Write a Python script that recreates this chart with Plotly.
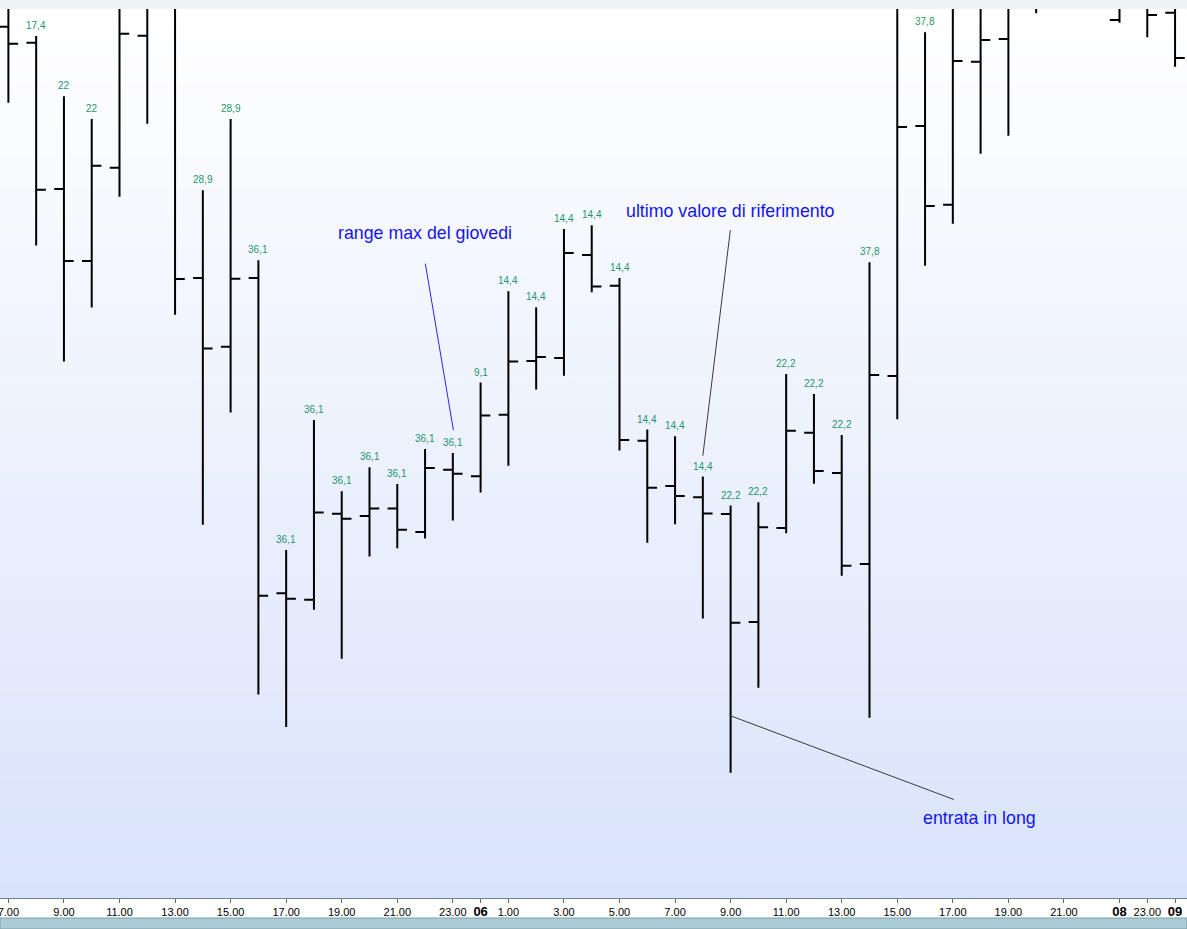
import plotly.graph_objects as go

# hourly bars, index 0 = day 05 07:00 (prices in chart units, axis hidden)
bar_idx = list(range(43))
opens = [873.3, 857.3, 711.0, 639.0, 732.3, 864.3, 910.0, 622.1, 553.2, 622.1,
         306.7, 300.2, 386.3, 384.1, 391.4, 368.1, 430.3, 423.7, 485.2, 539.0,
         542.0, 645.1, 614.2, 459.2, 414.0, 402.8, 386.1, 278.0, 372.0, 467.3,
         427.0, 336.0, 524.0, 774.0, 695.3, 838.3, 861.0, 910.0, 920.0, 940.0,
         880.0, 905.0, 887.3]
highs = [920.0, 864.0, 803.7, 781.0, 910.0, 940.0, 930.0, 709.7, 781.0, 639.8,
         350.0, 480.1, 408.8, 432.8, 416.1, 451.0, 447.0, 517.5, 608.7, 592.8,
         671.0, 674.8, 622.1, 470.5, 463.7, 423.5, 394.5, 397.7, 526.0, 506.0,
         465.0, 637.7, 915.0, 867.7, 910.0, 925.0, 940.0, 950.0, 960.0, 970.0,
         935.0, 930.0, 925.0]
lows = [797.3, 654.4, 538.6, 592.4, 703.3, 776.3, 585.2, 375.3, 487.4, 205.6,
        172.9, 290.3, 241.3, 343.4, 351.8, 361.6, 379.4, 407.4, 434.3, 510.4,
        524.3, 607.8, 449.4, 357.3, 375.7, 281.6, 127.3, 212.3, 366.7, 416.3,
        324.3, 182.3, 480.7, 634.3, 676.3, 746.3, 764.3, 886.7, 905.0, 910.0,
        877.3, 862.7, 833.3]
closes = [856.3, 710.3, 639.0, 734.3, 866.3, 905.0, 621.0, 551.4, 621.3, 304.2,
          301.2, 387.4, 381.2, 391.4, 370.3, 432.1, 426.3, 484.4, 538.4, 543.1,
          647.0, 613.5, 460.0, 412.2, 403.9, 386.6, 277.2, 372.7, 469.3, 429.0,
          334.3, 525.0, 773.0, 694.0, 839.0, 860.0, 905.0, 920.0, 940.0, 930.0,
          910.0, 885.0, 842.0]
range_labels = ["", "17,4", "22", "22", "", "", "", "28,9", "28,9", "36,1",
                "36,1", "36,1", "36,1", "36,1", "36,1", "36,1", "36,1", "9,1", "14,4", "14,4",
                "14,4", "14,4", "14,4", "14,4", "14,4", "14,4", "22,2", "22,2", "22,2", "22,2",
                "22,2", "37,8", "", "37,8", "", "", "", "", "", "",
                "", "", ""]

tick_pos = [0, 2, 4, 6, 8, 10, 12, 14, 16, 17, 18, 20, 22, 24, 26, 28, 30, 32, 34, 36, 38, 40, 41, 42]
tick_text = ["7.00", "9.00", "11.00", "13.00", "15.00", "17.00", "19.00", "21.00", "23.00", "06",
             "1.00", "3.00", "5.00", "7.00", "9.00", "11.00", "13.00", "15.00", "17.00", "19.00",
             "21.00", "08", "23.00", "09"]
day_ticks = {"06", "08", "09"}

notes = [
    ("range max del giovedi", 15.0, 667.3),
    ("ultimo valore di riferimento", 26.0, 689.0),
    ("entrata in long", 34.97, 82.0),
]
# pointer lines (x0, y0, x1, y1, colour)
pointers = [
    (15.01, 636.4, 16.02, 469.9, "#2626f2"),
    (25.99, 669.9, 25.0, 444.2, "#3a3a3a"),
    (25.97, 184.5, 34.04, 100.5, "#3a3a3a"),
]

fig = go.Figure(
    go.Ohlc(
        x=bar_idx,
        open=opens,
        high=highs,
        low=lows,
        close=closes,
        increasing={"line": {"color": "black", "width": 2}},
        decreasing={"line": {"color": "black", "width": 2}},
        tickwidth=0.35,
        hoverinfo="skip",
        showlegend=False,
    )
)

# background gradient, white at top to pale blue at bottom
shapes = []
steps = 60
top_rgb = (255, 255, 255)
bot_rgb = (217, 227, 251)
for k in range(steps):
    f = (k + 0.5) / steps
    rgb = tuple(round(t + (b - t) * f) for t, b in zip(top_rgb, bot_rgb))
    shapes.append(dict(
        type="rect", xref="paper", yref="paper", x0=0, x1=1,
        y0=max(0, 1 - (k + 1) / steps - 0.004), y1=1 - k / steps,
        fillcolor="rgb(%d,%d,%d)" % rgb, line={"width": 0}, layer="below",
    ))
# window chrome: strip above the plot and scrollbar strip below the axis
shapes.append(dict(type="rect", xref="paper", yref="paper", x0=0, x1=1,
                   y0=1.0, y1=1.0102, fillcolor="#eef3f3", line={"width": 0}))
shapes.append(dict(type="rect", xref="paper", yref="paper", x0=0, x1=1,
                   y0=-0.0349, y1=-0.0225, fillcolor="#a9ccd7",
                   line={"color": "#7f9ea8", "width": 1}))
for x0, y0, x1, y1, col in pointers:
    shapes.append(dict(type="line", xref="x", yref="y", x0=x0, y0=y0, x1=x1, y1=y1,
                       line={"color": col, "width": 1}))

annotations = []
for i, txt in enumerate(range_labels):
    if not txt:
        continue
    annotations.append(dict(
        x=bar_idx[i], y=highs[i], text=txt, showarrow=False, yshift=10.5,
        xanchor="center", yanchor="middle",
        font={"family": "Liberation Sans, Arial", "size": 10, "color": "#1f9470"},
    ))
for txt, nx, ny in notes:
    annotations.append(dict(
        x=nx, y=ny, text=txt, showarrow=False, xanchor="center", yanchor="middle",
        font={"family": "Liberation Sans, Arial", "size": 17.8, "color": "#1414f0"},
    ))

labels = ['<span style="font-size:13px"><b>%s</b></span>' % t if t in day_ticks else t
          for t in tick_text]

fig.update_layout(
    width=1187,
    height=929,
    margin={"l": 0, "r": 0, "t": 9, "b": 31},
    paper_bgcolor="white",
    plot_bgcolor="rgba(0,0,0,0)",
    shapes=shapes,
    annotations=annotations,
    hovermode=False,
    font={"family": "Liberation Sans, Arial", "size": 10, "color": "black"},
)
fig.update_xaxes(
    range=[-0.302, 42.43],
    rangeslider={"visible": False},
    automargin=False,
    tickmode="array",
    tickvals=tick_pos,
    ticktext=labels,
    ticks="outside",
    ticklen=4,
    tickcolor="#5d6d74",
    ticklabeloverflow="allow",
    showgrid=False,
    zeroline=False,
    showline=True,
    linecolor="#72848c",
    linewidth=1,
    mirror=True,
    tickfont={"family": "Liberation Sans, Arial", "size": 11, "color": "black"},
)
fig.update_yaxes(range=[2, 891], visible=False, automargin=False,
                 showgrid=False, zeroline=False)

fig.write_html(
    "out.html",
    config={"displayModeBar": False},
    post_script="document.body.style.margin='0';document.body.style.overflow='hidden';",
)
